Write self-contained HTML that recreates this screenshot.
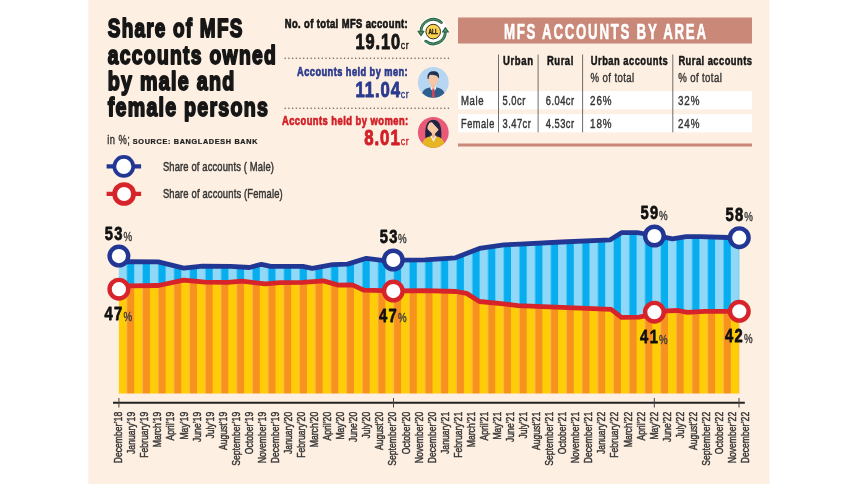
<!DOCTYPE html>
<html><head><meta charset="utf-8"><style>
html,body{margin:0;padding:0;background:#fff;width:859px;height:484px;overflow:hidden}
svg{position:absolute;left:0;top:0;font-family:'Liberation Sans', sans-serif;will-change:transform}
</style></head><body>
<svg width="859" height="484" viewBox="0 0 859 484">
<defs>
<pattern id="pb" patternUnits="userSpaceOnUse" x="118.5" y="0" width="15.7" height="10">
<rect x="0" y="0" width="8.3" height="10" fill="#90D8F7"/><rect x="8.3" y="0" width="7.4" height="10" fill="#07AEEF"/></pattern>
<pattern id="po" patternUnits="userSpaceOnUse" x="118.5" y="0" width="15.7" height="10">
<rect x="0" y="0" width="8.3" height="10" fill="#FFCD07"/><rect x="8.3" y="0" width="7.4" height="10" fill="#F7921E"/></pattern>
</defs>
<rect x="88.3" y="0" width="681.2" height="484" fill="#FDEFE1"/>
<text transform="translate(107.8,36.8) scale(0.7149,1)" font-size="26.5" font-weight="bold" fill="#161616" text-anchor="start" textLength="188.14" lengthAdjust="spacing" stroke="#161616" stroke-width="1.9" stroke-linejoin="round">Share of MFS</text>
<text transform="translate(107.8,63.6) scale(0.7282,1)" font-size="26.5" font-weight="bold" fill="#161616" text-anchor="start" textLength="230.69" lengthAdjust="spacing" stroke="#161616" stroke-width="1.9" stroke-linejoin="round">accounts owned</text>
<text transform="translate(107.8,89.7) scale(0.7433,1)" font-size="26.5" font-weight="bold" fill="#161616" text-anchor="start" textLength="170.19" lengthAdjust="spacing" stroke="#161616" stroke-width="1.9" stroke-linejoin="round">by male and</text>
<text transform="translate(107.8,115.8) scale(0.7407,1)" font-size="26.5" font-weight="bold" fill="#161616" text-anchor="start" textLength="216.02" lengthAdjust="spacing" stroke="#161616" stroke-width="1.9" stroke-linejoin="round">female persons</text>
<text transform="translate(407.7,27.6) scale(0.7633,1)" font-size="12.3" font-weight="bold" fill="#161616" text-anchor="end" textLength="161.14" lengthAdjust="spacing" stroke="#161616" stroke-width="0.7" stroke-linejoin="round">No. of total MFS account:</text>
<text transform="translate(355.6,48.9) scale(0.7648,1)" font-size="21.4" font-weight="bold" fill="#161616" text-anchor="start" textLength="58.19" lengthAdjust="spacing" stroke="#161616" stroke-width="0.9" stroke-linejoin="round">19.10</text>
<text transform="translate(400.8,49.1) scale(0.7672,1)" font-size="11.5" font-weight="normal" fill="#161616" text-anchor="start" textLength="10.43" lengthAdjust="spacing" stroke="#161616" stroke-width="0.35" stroke-linejoin="round">cr</text>
<text transform="translate(407.7,76.3) scale(0.7521,1)" font-size="12.3" font-weight="bold" fill="#2B3A8E" text-anchor="end" textLength="147.06" lengthAdjust="spacing" stroke="#2B3A8E" stroke-width="0.7" stroke-linejoin="round">Accounts held by men:</text>
<text transform="translate(355.6,97.3) scale(0.7819,1)" font-size="21.4" font-weight="bold" fill="#2B3A8E" text-anchor="start" textLength="56.91" lengthAdjust="spacing" stroke="#2B3A8E" stroke-width="0.9" stroke-linejoin="round">11.04</text>
<text transform="translate(400.8,97.5) scale(0.7672,1)" font-size="11.5" font-weight="normal" fill="#2B3A8E" text-anchor="start" textLength="10.43" lengthAdjust="spacing" stroke="#2B3A8E" stroke-width="0.35" stroke-linejoin="round">cr</text>
<text transform="translate(408.2,124.6) scale(0.7626,1)" font-size="12.3" font-weight="bold" fill="#D21F27" text-anchor="end" textLength="165.62" lengthAdjust="spacing" stroke="#D21F27" stroke-width="0.7" stroke-linejoin="round">Accounts held by women:</text>
<text transform="translate(364.2,145.2) scale(0.7865,1)" font-size="21.4" font-weight="bold" fill="#D21F27" text-anchor="start" textLength="45.26" lengthAdjust="spacing" stroke="#D21F27" stroke-width="0.9" stroke-linejoin="round">8.01</text>
<text transform="translate(400.8,145.4) scale(0.7672,1)" font-size="11.5" font-weight="normal" fill="#D21F27" text-anchor="start" textLength="10.43" lengthAdjust="spacing" stroke="#D21F27" stroke-width="0.35" stroke-linejoin="round">cr</text>
<line x1="285.2" y1="58.3" x2="449" y2="58.3" stroke="#6f6a66" stroke-width="1.6" stroke-dasharray="0.01 3.7" stroke-linecap="round"/>
<line x1="285.2" y1="108.3" x2="449" y2="108.3" stroke="#6f6a66" stroke-width="1.6" stroke-dasharray="0.01 3.7" stroke-linecap="round"/>
<rect x="458" y="17.5" width="294" height="26" fill="#C98878"/>
<text transform="translate(504,38.5) scale(0.6053,1)" font-size="22" font-weight="bold" fill="#fff" text-anchor="start" textLength="333.71" lengthAdjust="spacing" stroke="#fff" stroke-width="0.6" stroke-linejoin="round">MFS ACCOUNTS BY AREA</text>
<rect x="458" y="91.2" width="294" height="18.2" fill="#fff"/>
<rect x="458" y="114" width="294" height="18.3" fill="#fff"/>
<rect x="458" y="143.5" width="294" height="3" fill="#C98878"/>
<line x1="498.5" y1="54.5" x2="498.5" y2="132.3" stroke="#6d6d6d" stroke-width="1"/>
<line x1="538.1" y1="54.5" x2="538.1" y2="132.3" stroke="#6d6d6d" stroke-width="1"/>
<line x1="582.6" y1="54.5" x2="582.6" y2="132.3" stroke="#6d6d6d" stroke-width="1"/>
<line x1="672.8" y1="54.5" x2="672.8" y2="132.3" stroke="#6d6d6d" stroke-width="1"/>
<text transform="translate(503,64.9) scale(0.7768,1)" font-size="12.3" font-weight="bold" fill="#161616" text-anchor="start" textLength="38.62" lengthAdjust="spacing" stroke="#161616" stroke-width="0.5" stroke-linejoin="round">Urban</text>
<text transform="translate(547,64.9) scale(0.7697,1)" font-size="12.3" font-weight="bold" fill="#161616" text-anchor="start" textLength="34.17" lengthAdjust="spacing" stroke="#161616" stroke-width="0.5" stroke-linejoin="round">Rural</text>
<text transform="translate(590.8,64.9) scale(0.7612,1)" font-size="12.3" font-weight="bold" fill="#161616" text-anchor="start" textLength="101.02" lengthAdjust="spacing" stroke="#161616" stroke-width="0.5" stroke-linejoin="round">Urban accounts</text>
<text transform="translate(678.4,64.9) scale(0.7621,1)" font-size="12.3" font-weight="bold" fill="#161616" text-anchor="start" textLength="96.57" lengthAdjust="spacing" stroke="#161616" stroke-width="0.5" stroke-linejoin="round">Rural accounts</text>
<text transform="translate(590.6,82.3) scale(0.7824,1)" font-size="12.3" font-weight="normal" fill="#353535" text-anchor="start" textLength="55.72" lengthAdjust="spacing" stroke="#353535" stroke-width="0.42" stroke-linejoin="round">% of total</text>
<text transform="translate(678.2,82.3) scale(0.7824,1)" font-size="12.3" font-weight="normal" fill="#353535" text-anchor="start" textLength="55.72" lengthAdjust="spacing" stroke="#353535" stroke-width="0.42" stroke-linejoin="round">% of total</text>
<text transform="translate(461,105.4) scale(0.7766,1)" font-size="12.3" font-weight="normal" fill="#353535" text-anchor="start" textLength="28.97" lengthAdjust="spacing" stroke="#353535" stroke-width="0.42" stroke-linejoin="round">Male</text>
<text transform="translate(502.6,105.4) scale(0.7638,1)" font-size="12.3" font-weight="normal" fill="#353535" text-anchor="start" textLength="29.72" lengthAdjust="spacing" stroke="#353535" stroke-width="0.42" stroke-linejoin="round">5.0cr</text>
<text transform="translate(545.8,105.4) scale(0.7616,1)" font-size="12.3" font-weight="normal" fill="#353535" text-anchor="start" textLength="37.16" lengthAdjust="spacing" stroke="#353535" stroke-width="0.42" stroke-linejoin="round">6.04cr</text>
<text transform="translate(590.1,105.4) scale(0.7995,1)" font-size="12.3" font-weight="normal" fill="#353535" text-anchor="start" textLength="26.77" lengthAdjust="spacing" stroke="#353535" stroke-width="0.42" stroke-linejoin="round">26%</text>
<text transform="translate(678,105.4) scale(0.7995,1)" font-size="12.3" font-weight="normal" fill="#353535" text-anchor="start" textLength="26.77" lengthAdjust="spacing" stroke="#353535" stroke-width="0.42" stroke-linejoin="round">32%</text>
<text transform="translate(461,128.2) scale(0.7469,1)" font-size="12.3" font-weight="normal" fill="#353535" text-anchor="start" textLength="44.58" lengthAdjust="spacing" stroke="#353535" stroke-width="0.42" stroke-linejoin="round">Female</text>
<text transform="translate(502.6,128.2) scale(0.7589,1)" font-size="12.3" font-weight="normal" fill="#353535" text-anchor="start" textLength="37.16" lengthAdjust="spacing" stroke="#353535" stroke-width="0.42" stroke-linejoin="round">3.47cr</text>
<text transform="translate(545.8,128.2) scale(0.7616,1)" font-size="12.3" font-weight="normal" fill="#353535" text-anchor="start" textLength="37.16" lengthAdjust="spacing" stroke="#353535" stroke-width="0.42" stroke-linejoin="round">4.53cr</text>
<text transform="translate(590.1,128.2) scale(0.7995,1)" font-size="12.3" font-weight="normal" fill="#353535" text-anchor="start" textLength="26.77" lengthAdjust="spacing" stroke="#353535" stroke-width="0.42" stroke-linejoin="round">18%</text>
<text transform="translate(678,128.2) scale(0.7995,1)" font-size="12.3" font-weight="normal" fill="#353535" text-anchor="start" textLength="26.77" lengthAdjust="spacing" stroke="#353535" stroke-width="0.42" stroke-linejoin="round">24%</text>
<text transform="translate(107.3,144) scale(0.7033,1)" font-size="13.3" font-weight="normal" fill="#353535" text-anchor="start" textLength="32.13" lengthAdjust="spacing" stroke="#353535" stroke-width="0.45" stroke-linejoin="round">in %;</text>
<text transform="translate(132.8,144) scale(1.1523,1)" font-size="6.3" font-weight="bold" fill="#222" text-anchor="start" textLength="108.13" lengthAdjust="spacing" stroke="#222" stroke-width="0.25" stroke-linejoin="round">SOURCE: BANGLADESH BANK</text>
<line x1="106.6" y1="166.4" x2="141.1" y2="166.4" stroke="#223793" stroke-width="4.1"/>
<circle cx="123.8" cy="166.4" r="9.45" fill="#fff" stroke="#223793" stroke-width="3.7"/>
<line x1="106.6" y1="193.9" x2="141.1" y2="193.9" stroke="#D7232A" stroke-width="4.1"/>
<circle cx="124.1" cy="194" r="9.45" fill="#fff" stroke="#D7232A" stroke-width="4.8"/>
<text transform="translate(162.9,171) scale(0.7022,1)" font-size="13.4" font-weight="normal" fill="#353535" text-anchor="start" textLength="158.07" lengthAdjust="spacing" stroke="#353535" stroke-width="0.5" stroke-linejoin="round">Share of accounts ( Male)</text>
<text transform="translate(162.9,198.2) scale(0.7033,1)" font-size="13.4" font-weight="normal" fill="#353535" text-anchor="start" textLength="170.34" lengthAdjust="spacing" stroke="#353535" stroke-width="0.5" stroke-linejoin="round">Share of accounts (Female)</text>
<polygon points="118.9,285.9 130.6,285.9 158.5,285.5 183.7,280.1 205,282.2 227.9,282.4 241.9,281.1 265.2,283.9 280,282.6 302.9,282.4 323.4,280.9 338.3,285.1 352.4,284.9 363.6,290.2 393.3,290.8 425,290.6 456.1,291.5 466.6,293.4 479.4,301.5 501.5,303.6 518,305.6 561.6,307.3 611.2,309.4 621.4,317.3 639.1,317.2 654.4,314 667,310.8 678,310.5 687.5,312.3 704.9,311.3 739.3,311.3 739.3,393.6 118.9,393.6" fill="url(#po)"/>
<polygon points="118.9,262 130.6,261.7 158.4,261.9 183.7,268.2 202.4,266.1 230.8,266.3 249.4,267.5 261.4,264.3 270.8,266.3 302.9,266.3 312.2,268.4 332.7,264.6 347.6,264.1 366.4,258.3 382.2,260.4 393.3,260.1 425,259.8 455.5,257.8 479.4,248.4 503.8,244.9 520,244.1 561.6,242 610.3,239.8 621.4,232.7 637.2,232.6 642.8,233.5 654.4,236 665,237.3 672.5,238.8 686,236.6 700,236.6 728.2,237.5 739.3,237.7 739.3,311.3 704.9,311.3 687.5,312.3 678,310.5 667,310.8 654.4,314 639.1,317.2 621.4,317.3 611.2,309.4 561.6,307.3 518,305.6 501.5,303.6 479.4,301.5 466.6,293.4 456.1,291.5 425,290.6 393.3,290.8 363.6,290.2 352.4,284.9 338.3,285.1 323.4,280.9 302.9,282.4 280,282.6 265.2,283.9 241.9,281.1 227.9,282.4 205,282.2 183.7,280.1 158.5,285.5 130.6,285.9 118.9,285.9" fill="url(#pb)"/>
<polyline points="118.9,262 130.6,261.7 158.4,261.9 183.7,268.2 202.4,266.1 230.8,266.3 249.4,267.5 261.4,264.3 270.8,266.3 302.9,266.3 312.2,268.4 332.7,264.6 347.6,264.1 366.4,258.3 382.2,260.4 393.3,260.1 425,259.8 455.5,257.8 479.4,248.4 503.8,244.9 520,244.1 561.6,242 610.3,239.8 621.4,232.7 637.2,232.6 642.8,233.5 654.4,236 665,237.3 672.5,238.8 686,236.6 700,236.6 728.2,237.5 739.3,237.7" fill="none" stroke="#223793" stroke-width="4.8" stroke-linejoin="round"/>
<polyline points="118.9,285.9 130.6,285.9 158.5,285.5 183.7,280.1 205,282.2 227.9,282.4 241.9,281.1 265.2,283.9 280,282.6 302.9,282.4 323.4,280.9 338.3,285.1 352.4,284.9 363.6,290.2 393.3,290.8 425,290.6 456.1,291.5 466.6,293.4 479.4,301.5 501.5,303.6 518,305.6 561.6,307.3 611.2,309.4 621.4,317.3 639.1,317.2 654.4,314 667,310.8 678,310.5 687.5,312.3 704.9,311.3 739.3,311.3" fill="none" stroke="#D7232A" stroke-width="4.8" stroke-linejoin="round"/>
<circle cx="118.9" cy="256.1" r="9.3" fill="#fff" stroke="#223793" stroke-width="4.4"/>
<circle cx="118.9" cy="289.2" r="9.3" fill="#fff" stroke="#D7232A" stroke-width="4.4"/>
<circle cx="393.3" cy="260" r="9.3" fill="#fff" stroke="#223793" stroke-width="4.4"/>
<circle cx="393.3" cy="291.1" r="9.3" fill="#fff" stroke="#D7232A" stroke-width="4.4"/>
<circle cx="654.4" cy="236" r="9.3" fill="#fff" stroke="#223793" stroke-width="4.4"/>
<circle cx="654.4" cy="312.2" r="9.3" fill="#fff" stroke="#D7232A" stroke-width="4.4"/>
<circle cx="739.3" cy="237.7" r="9.3" fill="#fff" stroke="#223793" stroke-width="4.4"/>
<circle cx="739.3" cy="311.3" r="9.3" fill="#fff" stroke="#D7232A" stroke-width="4.4"/>
<text transform="translate(104.7,239.9) scale(0.7839,1)" font-size="18.8" font-weight="bold" fill="#111" text-anchor="start" textLength="22.71" lengthAdjust="spacing" stroke="#111" stroke-width="0.75" stroke-linejoin="round">53</text>
<text transform="translate(123.4,240.6) scale(0.7479,1)" font-size="13" font-weight="normal" fill="#3d3d3d" text-anchor="start" textLength="12.57" lengthAdjust="spacing" stroke="#3d3d3d" stroke-width="0.45" stroke-linejoin="round">%</text>
<text transform="translate(104.5,320.4) scale(0.7839,1)" font-size="18.8" font-weight="bold" fill="#111" text-anchor="start" textLength="22.71" lengthAdjust="spacing" stroke="#111" stroke-width="0.75" stroke-linejoin="round">47</text>
<text transform="translate(123.4,321.1) scale(0.7479,1)" font-size="13" font-weight="normal" fill="#3d3d3d" text-anchor="start" textLength="12.57" lengthAdjust="spacing" stroke="#3d3d3d" stroke-width="0.45" stroke-linejoin="round">%</text>
<text transform="translate(379.7,242.6) scale(0.7839,1)" font-size="18.8" font-weight="bold" fill="#111" text-anchor="start" textLength="22.71" lengthAdjust="spacing" stroke="#111" stroke-width="0.75" stroke-linejoin="round">53</text>
<text transform="translate(398,243.3) scale(0.7479,1)" font-size="13" font-weight="normal" fill="#3d3d3d" text-anchor="start" textLength="12.57" lengthAdjust="spacing" stroke="#3d3d3d" stroke-width="0.45" stroke-linejoin="round">%</text>
<text transform="translate(379.0,321.6) scale(0.7839,1)" font-size="18.8" font-weight="bold" fill="#111" text-anchor="start" textLength="22.71" lengthAdjust="spacing" stroke="#111" stroke-width="0.75" stroke-linejoin="round">47</text>
<text transform="translate(398,322.3) scale(0.7479,1)" font-size="13" font-weight="normal" fill="#3d3d3d" text-anchor="start" textLength="12.57" lengthAdjust="spacing" stroke="#3d3d3d" stroke-width="0.45" stroke-linejoin="round">%</text>
<text transform="translate(640.4,219.3) scale(0.7839,1)" font-size="18.8" font-weight="bold" fill="#111" text-anchor="start" textLength="22.71" lengthAdjust="spacing" stroke="#111" stroke-width="0.75" stroke-linejoin="round">59</text>
<text transform="translate(659,220.0) scale(0.7479,1)" font-size="13" font-weight="normal" fill="#3d3d3d" text-anchor="start" textLength="12.57" lengthAdjust="spacing" stroke="#3d3d3d" stroke-width="0.45" stroke-linejoin="round">%</text>
<text transform="translate(640.1,343.0) scale(0.7839,1)" font-size="18.8" font-weight="bold" fill="#111" text-anchor="start" textLength="22.71" lengthAdjust="spacing" stroke="#111" stroke-width="0.75" stroke-linejoin="round">41</text>
<text transform="translate(659,343.7) scale(0.7479,1)" font-size="13" font-weight="normal" fill="#3d3d3d" text-anchor="start" textLength="12.57" lengthAdjust="spacing" stroke="#3d3d3d" stroke-width="0.45" stroke-linejoin="round">%</text>
<text transform="translate(725.5,220.7) scale(0.7839,1)" font-size="18.8" font-weight="bold" fill="#111" text-anchor="start" textLength="22.71" lengthAdjust="spacing" stroke="#111" stroke-width="0.75" stroke-linejoin="round">58</text>
<text transform="translate(744.3,221.4) scale(0.7479,1)" font-size="13" font-weight="normal" fill="#3d3d3d" text-anchor="start" textLength="12.57" lengthAdjust="spacing" stroke="#3d3d3d" stroke-width="0.45" stroke-linejoin="round">%</text>
<text transform="translate(725.0,341.9) scale(0.7839,1)" font-size="18.8" font-weight="bold" fill="#111" text-anchor="start" textLength="22.71" lengthAdjust="spacing" stroke="#111" stroke-width="0.75" stroke-linejoin="round">42</text>
<text transform="translate(744,342.6) scale(0.7479,1)" font-size="13" font-weight="normal" fill="#3d3d3d" text-anchor="start" textLength="12.57" lengthAdjust="spacing" stroke="#3d3d3d" stroke-width="0.45" stroke-linejoin="round">%</text>
<line x1="113" y1="402.8" x2="744.8" y2="402.8" stroke="#222" stroke-width="2"/>
<line x1="118.9" y1="398" x2="118.9" y2="407.5" stroke="#444" stroke-width="1"/>
<line x1="393.5" y1="398" x2="393.5" y2="407.5" stroke="#444" stroke-width="1"/>
<line x1="654.3" y1="398" x2="654.3" y2="407.5" stroke="#444" stroke-width="1"/>
<line x1="739" y1="398" x2="739" y2="407.5" stroke="#444" stroke-width="1"/>
<text transform="translate(122.20,411.8) rotate(-90) scale(0.73,1)" font-size="11.8" fill="#353535" text-anchor="end" stroke="#353535" stroke-width="0.45">December&#8217;18</text>
<text transform="translate(135.26,411.8) rotate(-90) scale(0.73,1)" font-size="11.8" fill="#353535" text-anchor="end" stroke="#353535" stroke-width="0.45">January&#8217;19</text>
<text transform="translate(148.32,411.8) rotate(-90) scale(0.73,1)" font-size="11.8" fill="#353535" text-anchor="end" stroke="#353535" stroke-width="0.45">February&#8217;19</text>
<text transform="translate(161.38,411.8) rotate(-90) scale(0.73,1)" font-size="11.8" fill="#353535" text-anchor="end" stroke="#353535" stroke-width="0.45">March&#8217;19</text>
<text transform="translate(174.44,411.8) rotate(-90) scale(0.73,1)" font-size="11.8" fill="#353535" text-anchor="end" stroke="#353535" stroke-width="0.45">April&#8217;19</text>
<text transform="translate(187.50,411.8) rotate(-90) scale(0.73,1)" font-size="11.8" fill="#353535" text-anchor="end" stroke="#353535" stroke-width="0.45">May&#8217;19</text>
<text transform="translate(200.56,411.8) rotate(-90) scale(0.73,1)" font-size="11.8" fill="#353535" text-anchor="end" stroke="#353535" stroke-width="0.45">June&#8217;19</text>
<text transform="translate(213.62,411.8) rotate(-90) scale(0.73,1)" font-size="11.8" fill="#353535" text-anchor="end" stroke="#353535" stroke-width="0.45">July&#8217;19</text>
<text transform="translate(226.68,411.8) rotate(-90) scale(0.73,1)" font-size="11.8" fill="#353535" text-anchor="end" stroke="#353535" stroke-width="0.45">August&#8217;19</text>
<text transform="translate(239.74,411.8) rotate(-90) scale(0.73,1)" font-size="11.8" fill="#353535" text-anchor="end" stroke="#353535" stroke-width="0.45">September&#8217;19</text>
<text transform="translate(252.80,411.8) rotate(-90) scale(0.73,1)" font-size="11.8" fill="#353535" text-anchor="end" stroke="#353535" stroke-width="0.45">October&#8217;19</text>
<text transform="translate(265.86,411.8) rotate(-90) scale(0.73,1)" font-size="11.8" fill="#353535" text-anchor="end" stroke="#353535" stroke-width="0.45">November&#8217;19</text>
<text transform="translate(278.92,411.8) rotate(-90) scale(0.73,1)" font-size="11.8" fill="#353535" text-anchor="end" stroke="#353535" stroke-width="0.45">December&#8217;19</text>
<text transform="translate(291.98,411.8) rotate(-90) scale(0.73,1)" font-size="11.8" fill="#353535" text-anchor="end" stroke="#353535" stroke-width="0.45">January&#8217;20</text>
<text transform="translate(305.04,411.8) rotate(-90) scale(0.73,1)" font-size="11.8" fill="#353535" text-anchor="end" stroke="#353535" stroke-width="0.45">February&#8217;20</text>
<text transform="translate(318.10,411.8) rotate(-90) scale(0.73,1)" font-size="11.8" fill="#353535" text-anchor="end" stroke="#353535" stroke-width="0.45">March&#8217;20</text>
<text transform="translate(331.16,411.8) rotate(-90) scale(0.73,1)" font-size="11.8" fill="#353535" text-anchor="end" stroke="#353535" stroke-width="0.45">April&#8217;20</text>
<text transform="translate(344.22,411.8) rotate(-90) scale(0.73,1)" font-size="11.8" fill="#353535" text-anchor="end" stroke="#353535" stroke-width="0.45">May&#8217;20</text>
<text transform="translate(357.28,411.8) rotate(-90) scale(0.73,1)" font-size="11.8" fill="#353535" text-anchor="end" stroke="#353535" stroke-width="0.45">June&#8217;20</text>
<text transform="translate(370.34,411.8) rotate(-90) scale(0.73,1)" font-size="11.8" fill="#353535" text-anchor="end" stroke="#353535" stroke-width="0.45">July&#8217;20</text>
<text transform="translate(383.40,411.8) rotate(-90) scale(0.73,1)" font-size="11.8" fill="#353535" text-anchor="end" stroke="#353535" stroke-width="0.45">August&#8217;20</text>
<text transform="translate(396.46,411.8) rotate(-90) scale(0.73,1)" font-size="11.8" fill="#353535" text-anchor="end" stroke="#353535" stroke-width="0.45">September&#8217;20</text>
<text transform="translate(409.52,411.8) rotate(-90) scale(0.73,1)" font-size="11.8" fill="#353535" text-anchor="end" stroke="#353535" stroke-width="0.45">October&#8217;20</text>
<text transform="translate(422.58,411.8) rotate(-90) scale(0.73,1)" font-size="11.8" fill="#353535" text-anchor="end" stroke="#353535" stroke-width="0.45">November&#8217;20</text>
<text transform="translate(435.64,411.8) rotate(-90) scale(0.73,1)" font-size="11.8" fill="#353535" text-anchor="end" stroke="#353535" stroke-width="0.45">December&#8217;20</text>
<text transform="translate(448.70,411.8) rotate(-90) scale(0.73,1)" font-size="11.8" fill="#353535" text-anchor="end" stroke="#353535" stroke-width="0.45">January&#8217;21</text>
<text transform="translate(461.76,411.8) rotate(-90) scale(0.73,1)" font-size="11.8" fill="#353535" text-anchor="end" stroke="#353535" stroke-width="0.45">February&#8217;21</text>
<text transform="translate(474.82,411.8) rotate(-90) scale(0.73,1)" font-size="11.8" fill="#353535" text-anchor="end" stroke="#353535" stroke-width="0.45">March&#8217;21</text>
<text transform="translate(487.88,411.8) rotate(-90) scale(0.73,1)" font-size="11.8" fill="#353535" text-anchor="end" stroke="#353535" stroke-width="0.45">April&#8217;21</text>
<text transform="translate(500.94,411.8) rotate(-90) scale(0.73,1)" font-size="11.8" fill="#353535" text-anchor="end" stroke="#353535" stroke-width="0.45">May&#8217;21</text>
<text transform="translate(514.00,411.8) rotate(-90) scale(0.73,1)" font-size="11.8" fill="#353535" text-anchor="end" stroke="#353535" stroke-width="0.45">June&#8217;21</text>
<text transform="translate(527.06,411.8) rotate(-90) scale(0.73,1)" font-size="11.8" fill="#353535" text-anchor="end" stroke="#353535" stroke-width="0.45">July&#8217;21</text>
<text transform="translate(540.12,411.8) rotate(-90) scale(0.73,1)" font-size="11.8" fill="#353535" text-anchor="end" stroke="#353535" stroke-width="0.45">August&#8217;21</text>
<text transform="translate(553.18,411.8) rotate(-90) scale(0.73,1)" font-size="11.8" fill="#353535" text-anchor="end" stroke="#353535" stroke-width="0.45">September&#8217;21</text>
<text transform="translate(566.24,411.8) rotate(-90) scale(0.73,1)" font-size="11.8" fill="#353535" text-anchor="end" stroke="#353535" stroke-width="0.45">October&#8217;21</text>
<text transform="translate(579.30,411.8) rotate(-90) scale(0.73,1)" font-size="11.8" fill="#353535" text-anchor="end" stroke="#353535" stroke-width="0.45">November&#8217;21</text>
<text transform="translate(592.36,411.8) rotate(-90) scale(0.73,1)" font-size="11.8" fill="#353535" text-anchor="end" stroke="#353535" stroke-width="0.45">December&#8217;21</text>
<text transform="translate(605.42,411.8) rotate(-90) scale(0.73,1)" font-size="11.8" fill="#353535" text-anchor="end" stroke="#353535" stroke-width="0.45">January&#8217;22</text>
<text transform="translate(618.48,411.8) rotate(-90) scale(0.73,1)" font-size="11.8" fill="#353535" text-anchor="end" stroke="#353535" stroke-width="0.45">February&#8217;22</text>
<text transform="translate(631.54,411.8) rotate(-90) scale(0.73,1)" font-size="11.8" fill="#353535" text-anchor="end" stroke="#353535" stroke-width="0.45">March&#8217;22</text>
<text transform="translate(644.60,411.8) rotate(-90) scale(0.73,1)" font-size="11.8" fill="#353535" text-anchor="end" stroke="#353535" stroke-width="0.45">April&#8217;22</text>
<text transform="translate(657.66,411.8) rotate(-90) scale(0.73,1)" font-size="11.8" fill="#353535" text-anchor="end" stroke="#353535" stroke-width="0.45">May&#8217;22</text>
<text transform="translate(670.72,411.8) rotate(-90) scale(0.73,1)" font-size="11.8" fill="#353535" text-anchor="end" stroke="#353535" stroke-width="0.45">June&#8217;22</text>
<text transform="translate(683.78,411.8) rotate(-90) scale(0.73,1)" font-size="11.8" fill="#353535" text-anchor="end" stroke="#353535" stroke-width="0.45">July&#8217;22</text>
<text transform="translate(696.84,411.8) rotate(-90) scale(0.73,1)" font-size="11.8" fill="#353535" text-anchor="end" stroke="#353535" stroke-width="0.45">August&#8217;22</text>
<text transform="translate(709.90,411.8) rotate(-90) scale(0.73,1)" font-size="11.8" fill="#353535" text-anchor="end" stroke="#353535" stroke-width="0.45">September&#8217;22</text>
<text transform="translate(722.96,411.8) rotate(-90) scale(0.73,1)" font-size="11.8" fill="#353535" text-anchor="end" stroke="#353535" stroke-width="0.45">October&#8217;22</text>
<text transform="translate(736.02,411.8) rotate(-90) scale(0.73,1)" font-size="11.8" fill="#353535" text-anchor="end" stroke="#353535" stroke-width="0.45">November&#8217;22</text>
<text transform="translate(749.08,411.8) rotate(-90) scale(0.73,1)" font-size="11.8" fill="#353535" text-anchor="end" stroke="#353535" stroke-width="0.45">December&#8217;22</text>
<circle cx="433.2" cy="31.6" r="14.6" fill="#fff"/>
<path d="M421.01,32.03 A12.2,12.2 0 0 1 441.36,22.53" fill="none" stroke="#2C6147" stroke-width="2.9" stroke-linecap="round"/>
<path d="M421.01,32.03 A12.2,12.2 0 0 1 441.36,22.53" fill="none" stroke="#4E9466" stroke-width="1.1" stroke-linecap="round"/>
<path d="M425.69,41.21 A12.2,12.2 0 0 0 445.39,32.03" fill="none" stroke="#2C6147" stroke-width="2.9" stroke-linecap="round"/>
<path d="M425.69,41.21 A12.2,12.2 0 0 0 445.39,32.03" fill="none" stroke="#4E9466" stroke-width="1.1" stroke-linecap="round"/>
<path d="M418.00,31.20 L424.00,31.20 L421.00,35.60 Z" fill="#4E9466" stroke="#2C6147" stroke-width="1.1" stroke-linejoin="round"/>
<path d="M442.40,32.00 L448.40,32.00 L445.40,27.60 Z" fill="#4E9466" stroke="#2C6147" stroke-width="1.1" stroke-linejoin="round"/>
<circle cx="433.2" cy="31.6" r="7.3" fill="#FBD34E" stroke="#2E2E24" stroke-width="1"/>
<text x="433.2" y="34.0" font-size="6.6" font-weight="bold" fill="#1a1a1a" text-anchor="middle" textLength="9.6" lengthAdjust="spacingAndGlyphs" stroke="#1a1a1a" stroke-width="0.35">ALL</text>
<clipPath id="cm"><circle cx="433.3" cy="82.4" r="15.4"/></clipPath>
<circle cx="433.3" cy="82.4" r="15.4" fill="#B7D6F1"/>
<g clip-path="url(#cm)"><path d="M421.3,98.4 C421.3,90.4 425.3,87.9 430.3,87.4 L436.3,87.4 C441.3,87.9 445.3,90.4 445.3,98.4 Z" fill="#2F5E8E"/><path d="M430.7,85.4 L435.9,85.4 L436.1,88.9 L433.3,91.4 L430.5,88.9 Z" fill="#F4F4F4"/><path d="M431.1,83.4 L435.5,83.4 L435.5,87.0 L433.3,88.4 L431.1,87.0 Z" fill="#F2BFA0"/><path d="M432.3,88.4 L434.3,88.4 L434.7,96.4 L433.3,97.9 L431.9,96.4 Z" fill="#D64555"/><ellipse cx="433.3" cy="79.2" rx="4.9" ry="6" fill="#F6C6A6"/><path d="M427.7,78.9 C426.7,73.4 429.8,70.8 433.8,71.2 C437.3,71.0 439.9,73.4 438.9,78.6 L437.9,77.2 C437.1,74.8 432.3,75.2 430.1,74.8 C429.1,75.8 428.7,77.4 428.6,78.9 Z" fill="#1E3253"/></g>
<clipPath id="cw"><circle cx="433.3" cy="132.4" r="15.4"/></clipPath>
<circle cx="433.3" cy="132.4" r="15.4" fill="#E85A78"/>
<g clip-path="url(#cw)"><path d="M425.4,138.2 C424.7,129.4 425.7,119.8 433.3,119.7 C440.9,119.8 441.9,129.4 441.2,138.2 Z" fill="#1D2340"/><path d="M421.8,148.4 C421.8,140.9 424.8,137.2 430.3,136.6 L436.3,136.6 C441.8,137.2 444.8,140.9 444.8,148.4 Z" fill="#E5B524"/><path d="M430.1,135.8 L436.7,135.8 L433.5,141.9 Z" fill="#F6F3EE"/><path d="M431.8,132.9 L435.2,132.9 L435.2,136.4 L433.5,139.6 L431.8,136.4 Z" fill="#F3B690"/><path d="M429.1,123.2 Q430.3,122.0 431.9,122.2 L438.6,129.5 Q437.9,131.4 435.3,133.2 Q433.3,134.8 432.1,133.6 L427.9,129.4 Q426.9,128.0 427.7,126.2 Z" fill="#F8C8A6"/></g>
</svg></body></html>
